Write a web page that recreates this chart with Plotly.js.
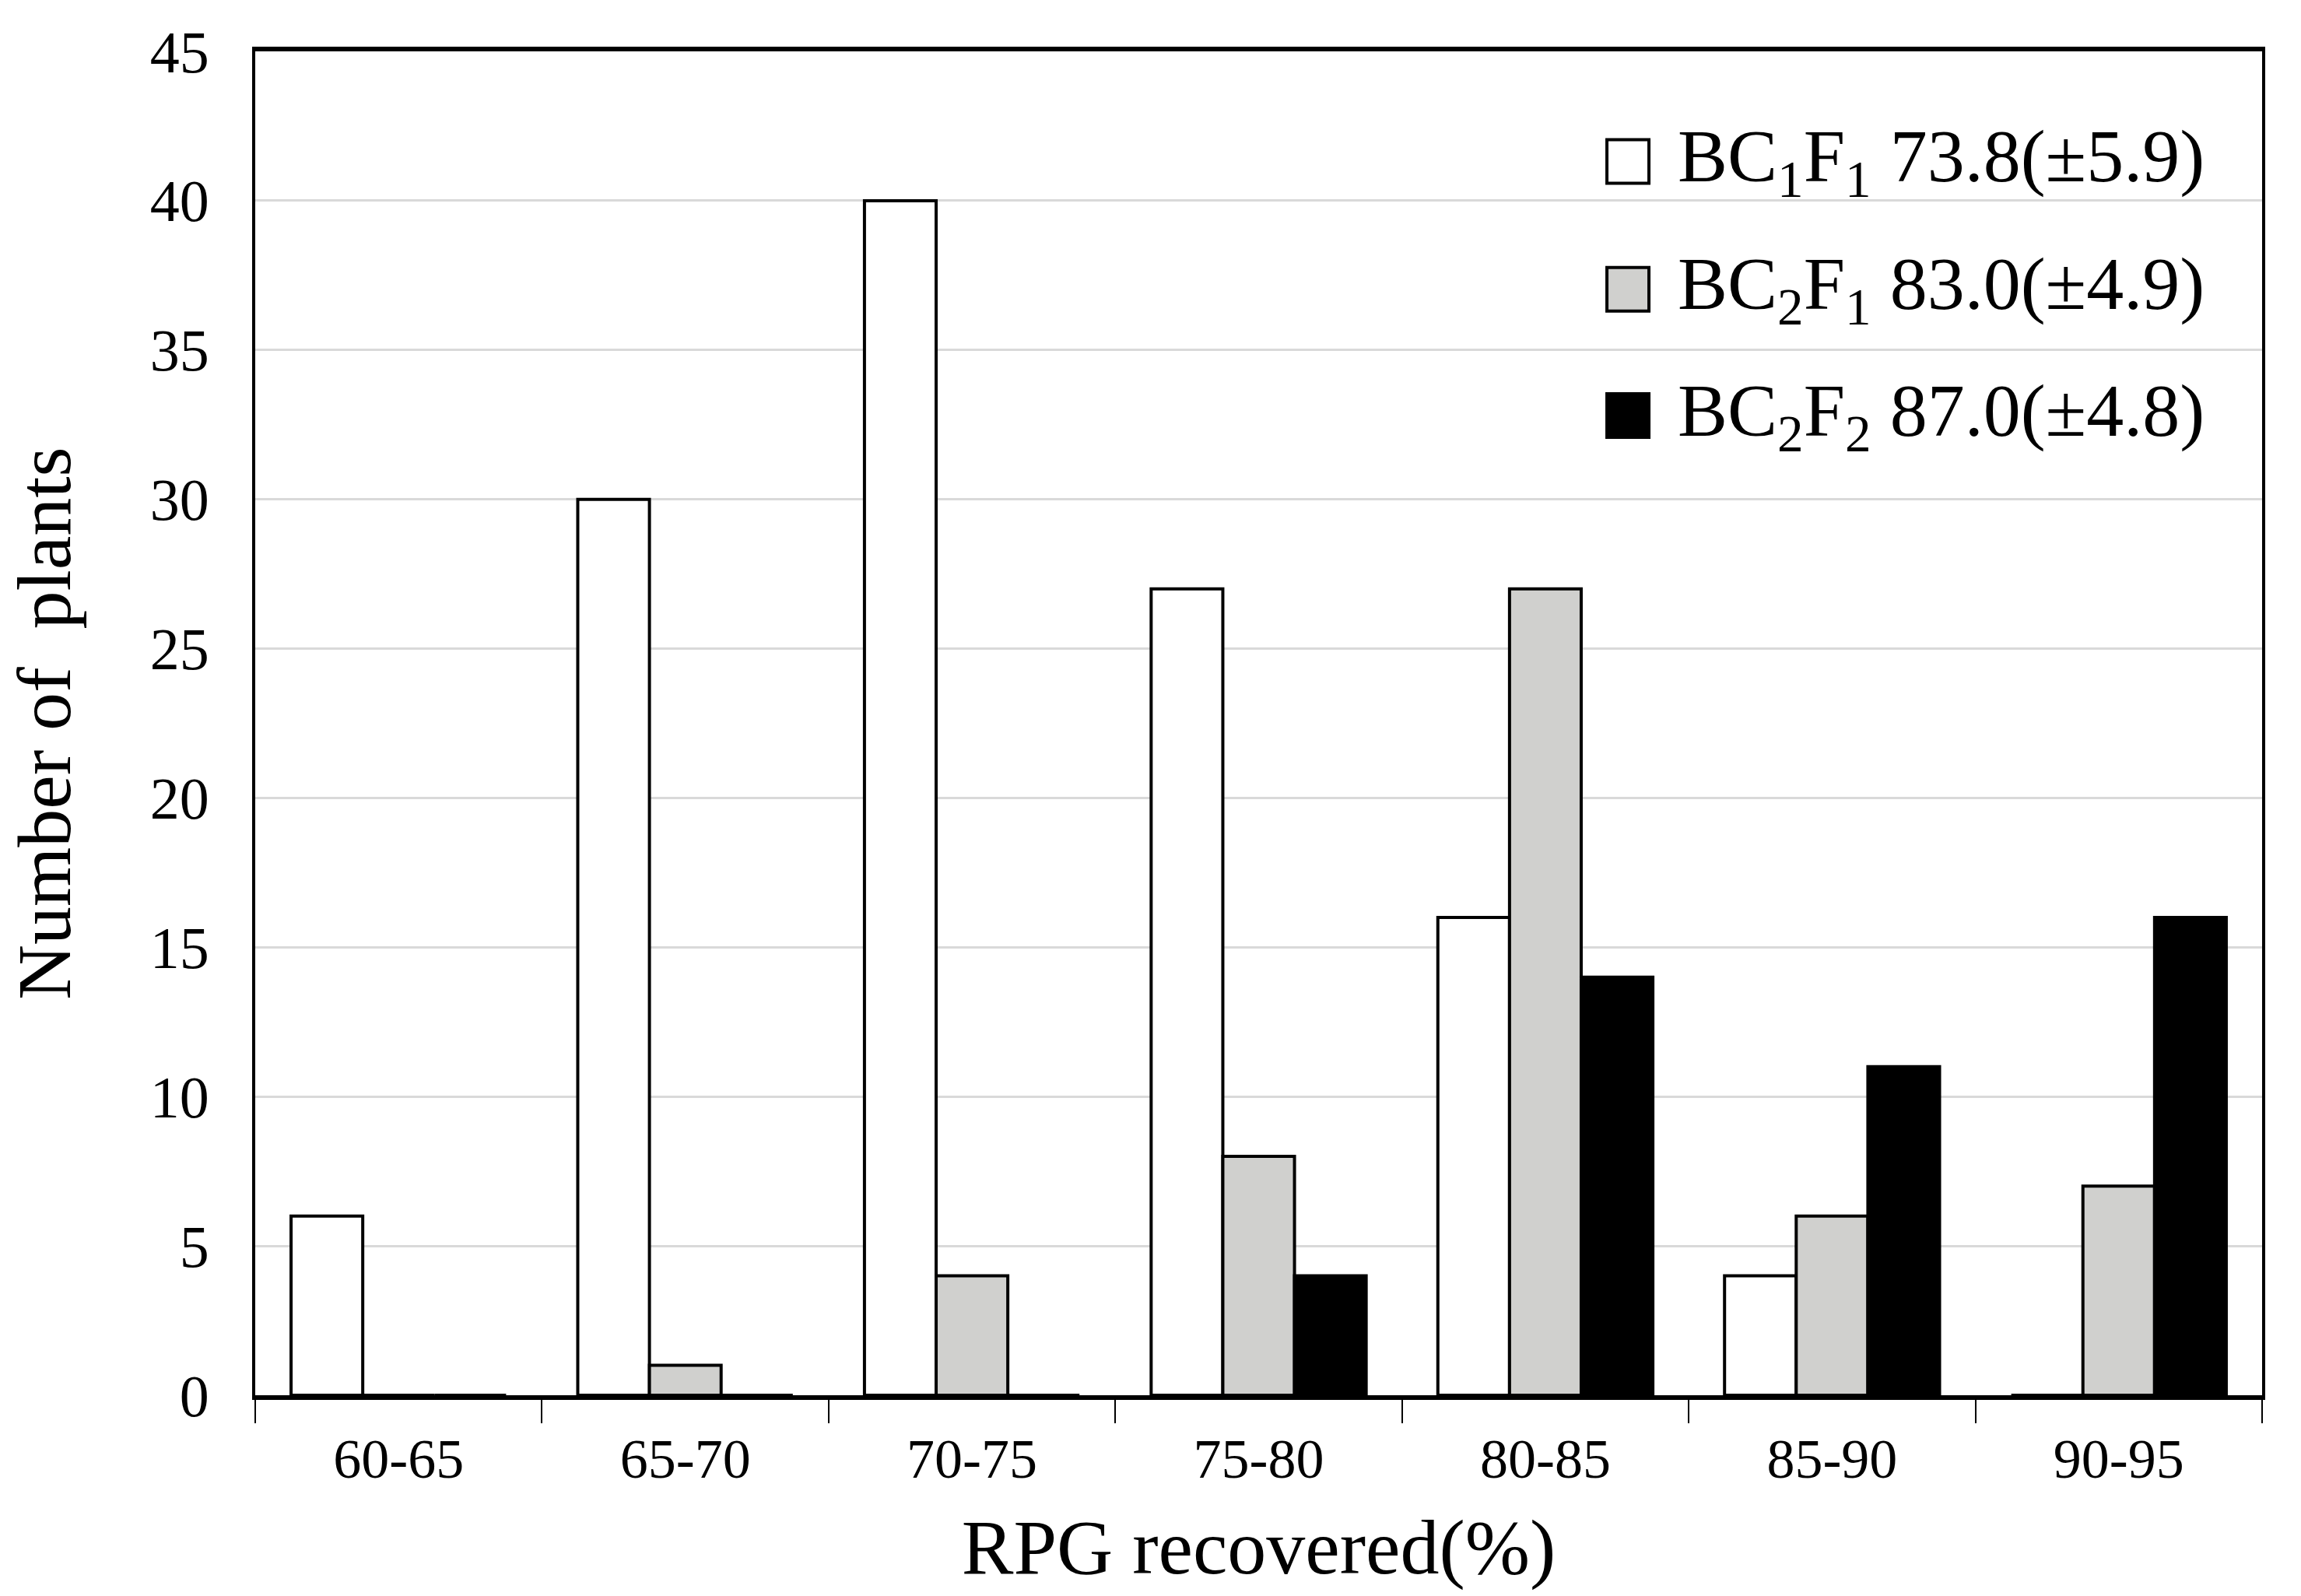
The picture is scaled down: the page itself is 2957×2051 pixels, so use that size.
<!DOCTYPE html>
<html>
<head>
<meta charset="utf-8">
<script src="https://cdn.plot.ly/plotly-3.0.1.min.js"></script>
<style>
  html, body { margin: 0; padding: 0; background: #fff; }
  #chart { width: 2957px; height: 2051px; }
</style>
</head>
<body>
<div id="chart"></div>
<script>
const categories = ["60-65", "65-70", "70-75", "75-80", "80-85", "85-90", "90-95"];
const bc1f1 = [6, 30, 40, 27, 16, 4, 0];
const bc2f1 = [0, 1, 4, 8, 27, 6, 7];
const bc2f2 = [0, 0, 0, 4, 14, 11, 16];
const seriesNames = [
  "BC<sub>1</sub>F<sub>1</sub> 73.8(±5.9)",
  "BC<sub>2</sub>F<sub>1</sub> 83.0(±4.9)",
  "BC<sub>2</sub>F<sub>2</sub> 87.0(±4.8)"
];
const yTicks = [0, 5, 10, 15, 20, 25, 30, 35, 40, 45];

const FONT = "Liberation Serif, Times New Roman, serif";
const fills = ["#ffffff", "#d0d0ce", "#000000"];
const allValues = [bc1f1, bc2f1, bc2f2];

const traces = allValues.map((vals, i) => ({
  type: "bar",
  x: categories,
  y: vals,
  name: seriesNames[i],
  showlegend: false,
  marker: { color: fills[i], line: { color: "#000", width: 4 } },
  hoverinfo: "x+y+name"
}));

// legend drawn by hand so the swatches can be as large as the original
const legendY = [0.918, 0.823, 0.729];
const shapes = legendY.map((yy, i) => ({
  type: "rect",
  xref: "paper", yref: "paper",
  xsizemode: "pixel", ysizemode: "pixel",
  xanchor: 0.684, yanchor: yy,
  x0: -27, x1: 27, y0: -28, y1: 28,
  fillcolor: fills[i],
  line: { color: "#000", width: 4 }
}));
const annotations = legendY.map((yy, i) => ({
  xref: "paper", yref: "paper",
  x: 0.708, y: yy,
  xanchor: "left", yanchor: "middle",
  text: seriesNames[i],
  showarrow: false,
  font: { family: FONT, size: 96, color: "#000" }
}));

const layout = {
  width: 2957,
  height: 2051,
  margin: { l: 328, r: 50, t: 66, b: 258 },
  paper_bgcolor: "#fff",
  plot_bgcolor: "#fff",
  font: { family: FONT, color: "#000" },
  barmode: "group",
  bargap: 0.25,
  bargroupgap: 0,
  xaxis: {
    type: "category",
    tickson: "boundaries",
    ticks: "outside",
    ticklen: 30,
    tickwidth: 2,
    tickcolor: "#000",
    showline: true,
    linecolor: "#000",
    linewidth: 6,
    mirror: true,
    showgrid: false,
    tickfont: { family: FONT, size: 72, color: "#000" },
    ticklabelstandoff: 14,
    title: { text: "RPG recovered(%)", font: { family: FONT, size: 100, color: "#000" }, standoff: 40 }
  },
  yaxis: {
    range: [0, 45],
    tickvals: yTicks,
    ticks: "",
    showline: true,
    linecolor: "#000",
    linewidth: 4,
    mirror: true,
    showgrid: true,
    gridcolor: "#d9d9d9",
    gridwidth: 3,
    zeroline: false,
    tickfont: { family: FONT, size: 76, color: "#000" },
    ticklabelstandoff: 40,
    title: { text: "Number of  plants", font: { family: FONT, size: 98, color: "#000" }, standoff: 70 }
  },
  shapes: shapes,
  annotations: annotations
};

Plotly.newPlot("chart", traces, layout, { displayModeBar: false, staticPlot: true });
</script>
</body>
</html>
